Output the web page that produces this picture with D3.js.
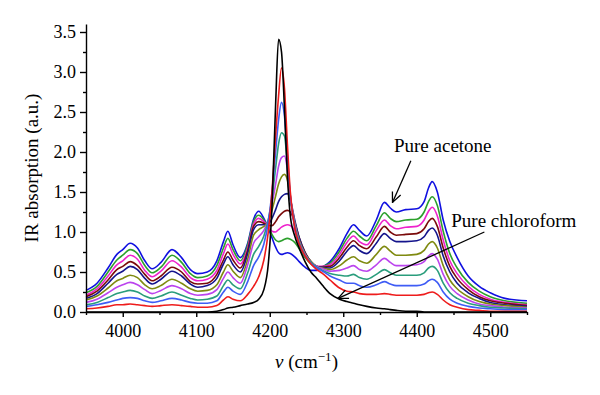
<!DOCTYPE html>
<html>
<head>
<meta charset="utf-8">
<script src="https://d3js.org/d3.v7.min.js"></script>
<style>
  body { margin: 0; background: #fff; }
  text { font-family: "Liberation Serif", "Times New Roman", serif; fill: #000; }
</style>
</head>
<body>
<svg id="svgMain" width="600" height="395"></svg>
<script>
// wavenumber grid (cm^-1), shared by every spectrum
const wavenumber = [3950, 3965, 3980, 3992, 4000, 4010, 4020, 4030, 4040, 4052, 4067, 4080, 4092, 4102, 4115, 4128,
  4137, 4143, 4150, 4160, 4170, 4178, 4185, 4192, 4198, 4203, 4208, 4212, 4216, 4220, 4224, 4228,
  4234, 4240, 4248, 4256, 4264, 4272, 4282, 4295, 4305, 4314, 4322, 4332, 4345, 4356, 4364, 4372,
  4385, 4400, 4410, 4416, 4421, 4428, 4436, 4445, 4455, 4470, 4485, 4500, 4520, 4550];

// pure chloroform (black)
const spec0 = [0, 0, 0, 0, 0, 0, 0, 0, 0, 0, 0, 0, 0, 0, 0, 0.01,
  0.03, 0.05, 0.06, 0.08, 0.10, 0.12, 0.16, 0.28, 0.60, 1.30, 2.60, 3.41, 3.25, 2.55, 1.70, 1.20,
  0.95, 0.80, 0.63, 0.50, 0.42, 0.33, 0.23, 0.16, 0.13, 0.11, 0.09, 0.07, 0.05, 0.04, 0.03, 0.02,
  0.01, 0.01, 0, 0, 0, 0, 0, 0, 0, 0, 0, 0, 0, 0];
const spec1 = [0.04, 0.05, 0.07, 0.09, 0.09, 0.10, 0.09, 0.08, 0.07, 0.08, 0.09, 0.08, 0.07, 0.06, 0.06, 0.08,
  0.15, 0.19, 0.16, 0.14, 0.22, 0.32, 0.44, 0.65, 1.00, 1.50, 2.20, 2.70, 3.05, 2.80, 2.10, 1.50,
  1.05, 0.85, 0.70, 0.60, 0.53, 0.48, 0.40, 0.30, 0.26, 0.25, 0.23, 0.22, 0.22, 0.23, 0.22, 0.21,
  0.21, 0.21, 0.22, 0.24, 0.25, 0.22, 0.15, 0.09, 0.06, 0.03, 0.02, 0.01, 0.01, 0.01];
const spec2 = [0.07, 0.09, 0.12, 0.15, 0.17, 0.18, 0.17, 0.14, 0.12, 0.14, 0.17, 0.15, 0.12, 0.11, 0.11, 0.14,
  0.25, 0.31, 0.26, 0.22, 0.38, 0.58, 0.69, 0.85, 1.12, 1.50, 2.00, 2.40, 2.62, 2.45, 1.95, 1.45,
  1.05, 0.85, 0.70, 0.61, 0.55, 0.51, 0.45, 0.40, 0.36, 0.36, 0.33, 0.31, 0.34, 0.38, 0.35, 0.33,
  0.33, 0.33, 0.35, 0.39, 0.41, 0.37, 0.25, 0.16, 0.11, 0.07, 0.05, 0.04, 0.03, 0.03];
const spec3 = [0.09, 0.12, 0.18, 0.23, 0.25, 0.27, 0.25, 0.20, 0.17, 0.20, 0.25, 0.21, 0.17, 0.15, 0.16, 0.20,
  0.33, 0.40, 0.34, 0.29, 0.49, 0.72, 0.82, 0.95, 1.15, 1.42, 1.80, 2.10, 2.24, 2.20, 1.85, 1.45,
  1.08, 0.87, 0.71, 0.62, 0.56, 0.52, 0.48, 0.46, 0.45, 0.47, 0.43, 0.41, 0.47, 0.53, 0.49, 0.46,
  0.46, 0.46, 0.49, 0.55, 0.57, 0.52, 0.36, 0.24, 0.17, 0.11, 0.08, 0.06, 0.05, 0.04];
const spec4 = [0.12, 0.16, 0.24, 0.31, 0.34, 0.37, 0.34, 0.28, 0.23, 0.27, 0.33, 0.29, 0.23, 0.21, 0.22, 0.28,
  0.42, 0.50, 0.43, 0.36, 0.59, 0.86, 0.94, 1.02, 1.15, 1.35, 1.60, 1.82, 1.93, 1.95, 1.78, 1.45,
  1.10, 0.88, 0.72, 0.62, 0.57, 0.54, 0.51, 0.52, 0.55, 0.58, 0.53, 0.51, 0.59, 0.67, 0.62, 0.58,
  0.58, 0.59, 0.63, 0.70, 0.73, 0.66, 0.47, 0.32, 0.23, 0.15, 0.10, 0.08, 0.06, 0.05];
const spec5 = [0.15, 0.20, 0.30, 0.39, 0.42, 0.46, 0.43, 0.34, 0.29, 0.33, 0.41, 0.36, 0.29, 0.26, 0.27, 0.34,
  0.50, 0.59, 0.51, 0.43, 0.66, 0.96, 1.03, 1.07, 1.13, 1.27, 1.45, 1.60, 1.69, 1.72, 1.65, 1.42,
  1.12, 0.90, 0.73, 0.63, 0.57, 0.55, 0.53, 0.58, 0.65, 0.69, 0.64, 0.61, 0.72, 0.82, 0.76, 0.71,
  0.71, 0.72, 0.77, 0.85, 0.88, 0.80, 0.58, 0.40, 0.29, 0.19, 0.13, 0.10, 0.08, 0.06];
const spec6 = [0.17, 0.23, 0.36, 0.47, 0.51, 0.57, 0.53, 0.42, 0.35, 0.41, 0.51, 0.45, 0.35, 0.31, 0.33, 0.42,
  0.60, 0.69, 0.59, 0.50, 0.73, 1.03, 1.09, 1.09, 1.10, 1.17, 1.28, 1.38, 1.44, 1.47, 1.48, 1.40,
  1.15, 0.93, 0.74, 0.63, 0.57, 0.56, 0.55, 0.64, 0.76, 0.83, 0.77, 0.73, 0.86, 0.98, 0.92, 0.88,
  0.88, 0.89, 0.94, 1.02, 1.05, 0.96, 0.70, 0.50, 0.36, 0.24, 0.17, 0.12, 0.09, 0.07];
const spec7 = [0.19, 0.26, 0.40, 0.53, 0.57, 0.63, 0.58, 0.47, 0.39, 0.45, 0.56, 0.50, 0.38, 0.35, 0.36, 0.47,
  0.65, 0.75, 0.65, 0.55, 0.77, 1.07, 1.13, 1.11, 1.08, 1.08, 1.13, 1.19, 1.23, 1.26, 1.27, 1.25,
  1.12, 0.93, 0.75, 0.63, 0.57, 0.56, 0.57, 0.68, 0.81, 0.89, 0.83, 0.79, 0.94, 1.07, 1.00, 0.96,
  0.97, 0.98, 1.04, 1.13, 1.17, 1.07, 0.80, 0.57, 0.42, 0.28, 0.19, 0.14, 0.11, 0.08];
const spec8 = [0.21, 0.29, 0.45, 0.59, 0.64, 0.71, 0.66, 0.52, 0.44, 0.51, 0.64, 0.56, 0.43, 0.39, 0.41, 0.52,
  0.73, 0.85, 0.72, 0.60, 0.80, 1.10, 1.17, 1.13, 1.07, 1.01, 1.00, 1.03, 1.06, 1.08, 1.09, 1.08,
  1.02, 0.88, 0.73, 0.62, 0.57, 0.57, 0.59, 0.72, 0.87, 0.95, 0.88, 0.84, 1.02, 1.15, 1.08, 1.04,
  1.06, 1.07, 1.15, 1.26, 1.31, 1.20, 0.90, 0.64, 0.48, 0.32, 0.22, 0.16, 0.12, 0.09];
const spec9 = [0.24, 0.32, 0.50, 0.65, 0.71, 0.78, 0.73, 0.58, 0.49, 0.56, 0.71, 0.62, 0.48, 0.43, 0.45, 0.58,
  0.80, 0.92, 0.78, 0.64, 0.84, 1.13, 1.21, 1.15, 1.06, 0.97, 0.90, 0.88, 0.89, 0.91, 0.92, 0.91,
  0.87, 0.79, 0.68, 0.60, 0.56, 0.57, 0.61, 0.76, 0.92, 1.01, 0.95, 0.89, 1.08, 1.24, 1.17, 1.13,
  1.15, 1.16, 1.25, 1.38, 1.44, 1.33, 1.01, 0.73, 0.55, 0.37, 0.26, 0.19, 0.14, 0.11];
// pure acetone (blue, top)
const spec10 = [0.27, 0.36, 0.55, 0.72, 0.78, 0.86, 0.80, 0.64, 0.54, 0.62, 0.78, 0.68, 0.53, 0.48, 0.50, 0.64,
  0.88, 1.01, 0.84, 0.68, 0.86, 1.16, 1.26, 1.17, 1.05, 0.93, 0.81, 0.74, 0.72, 0.73, 0.74, 0.73,
  0.69, 0.63, 0.56, 0.52, 0.52, 0.56, 0.63, 0.80, 0.98, 1.09, 1.02, 0.95, 1.15, 1.37, 1.30, 1.25,
  1.28, 1.29, 1.38, 1.55, 1.63, 1.50, 1.15, 0.88, 0.68, 0.45, 0.32, 0.24, 0.17, 0.14];

const spectra = [spec0, spec1, spec2, spec3, spec4, spec5, spec6, spec7, spec8, spec9, spec10];
const lineColors = ["#000000", "#ee1c1c", "#3f5cf5", "#2a9d7c", "#bb44ee", "#7f8a10",
  "#14148c", "#7a0a0a", "#ee22cc", "#2ca02c", "#1010e0"];

const yTicks = [0, 0.5, 1.0, 1.5, 2.0, 2.5, 3.0, 3.5];
const yMinor = [0.25, 0.75, 1.25, 1.75, 2.25, 2.75, 3.25];
const xTicks = [4000, 4100, 4200, 4300, 4400, 4500];
const xMinor = [3950, 4050, 4150, 4250, 4350, 4450, 4550];

const svg = d3.select("#svgMain");
const serif = "'Liberation Serif', 'Times New Roman', serif";

const x = d3.scaleLinear().domain([3950, 4550]).range([86, 527]);
const y = d3.scaleLinear().domain([0, 3.6]).range([312, 24]);

// spectra, acetone-rich first so chloroform lies on top
const lineGen = d3.line()
    .x((d, i) => x(wavenumber[i]))
    .y(d => y(d))
    .curve(d3.curveMonotoneX);

const plot = svg.append("g");
for (let k = spectra.length - 1; k >= 0; k--) {
    plot.append("path")
        .attr("d", lineGen(spectra[k]))
        .attr("fill", "none")
        .attr("stroke", lineColors[k])
        .attr("stroke-width", 1.6)
        .attr("stroke-linejoin", "round");
}

// axes
const yAxis = svg.append("g")
    .attr("transform", "translate(86,0)")
    .call(d3.axisLeft(y).tickValues(yTicks).tickSize(6).tickSizeOuter(0).tickFormat(d3.format(".1f")));
svg.append("g")
    .attr("transform", "translate(86,0)")
    .call(d3.axisLeft(y).tickValues(yMinor).tickSize(3).tickFormat(""))
    .select(".domain").remove();

const xAxis = svg.append("g")
    .attr("transform", "translate(0,312)")
    .call(d3.axisBottom(x).tickValues(xTicks).tickSize(5).tickSizeOuter(0).tickFormat(d3.format("d")));
svg.append("g")
    .attr("transform", "translate(0,312)")
    .call(d3.axisBottom(x).tickValues(xMinor).tickSize(3).tickFormat(""))
    .select(".domain").remove();

svg.selectAll(".domain, .tick line").attr("stroke", "#000").attr("stroke-width", 1.4);
yAxis.attr("font-family", serif).attr("font-size", 18);
xAxis.attr("font-family", serif).attr("font-size", 18);
yAxis.selectAll("text").attr("x", -10);
xAxis.selectAll("text").attr("y", 12);

// axis titles
svg.append("text")
    .attr("transform", "translate(38," + ((312 + 24) / 2) + ") rotate(-90)")
    .attr("text-anchor", "middle")
    .attr("font-size", 19)
    .text("IR absorption (a.u.)");

const xTitle = svg.append("text")
    .attr("x", (86 + 527) / 2)
    .attr("y", 368)
    .attr("text-anchor", "middle")
    .attr("font-size", 19);
xTitle.append("tspan").attr("font-style", "italic").text("\u03bd");
xTitle.append("tspan").text(" (cm");
xTitle.append("tspan").attr("dy", -7).attr("font-size", 13).text("\u22121");
xTitle.append("tspan").attr("dy", 7).text(")");

// annotations
svg.append("defs").append("marker")
    .attr("id", "vhead")
    .attr("viewBox", "-1 -6 12 12")
    .attr("refX", 10).attr("refY", 0)
    .attr("markerWidth", 12).attr("markerHeight", 12)
    .attr("markerUnits", "userSpaceOnUse")
    .attr("orient", "auto")
    .append("path")
    .attr("d", "M0,-4.5 L10,0 L0,4.5")
    .attr("fill", "none")
    .attr("stroke", "#000")
    .attr("stroke-width", 1.3);

function note(label, tx, ty, fromX, fromY, toX, toY) {
    svg.append("text")
        .attr("x", x(tx)).attr("y", y(ty))
        .attr("font-size", 19)
        .text(label);
    svg.append("line")
        .attr("x1", x(fromX)).attr("y1", y(fromY))
        .attr("x2", x(toX)).attr("y2", y(toY))
        .attr("stroke", "#000")
        .attr("stroke-width", 1.3)
        .attr("marker-end", "url(#vhead)");
}

note("Pure acetone", 4369, 2.0, 4392, 1.89, 4367, 1.37);
note("Pure chloroform", 4447, 1.06, 4492, 1.0, 4293, 0.17);
</script>
</body>
</html>
